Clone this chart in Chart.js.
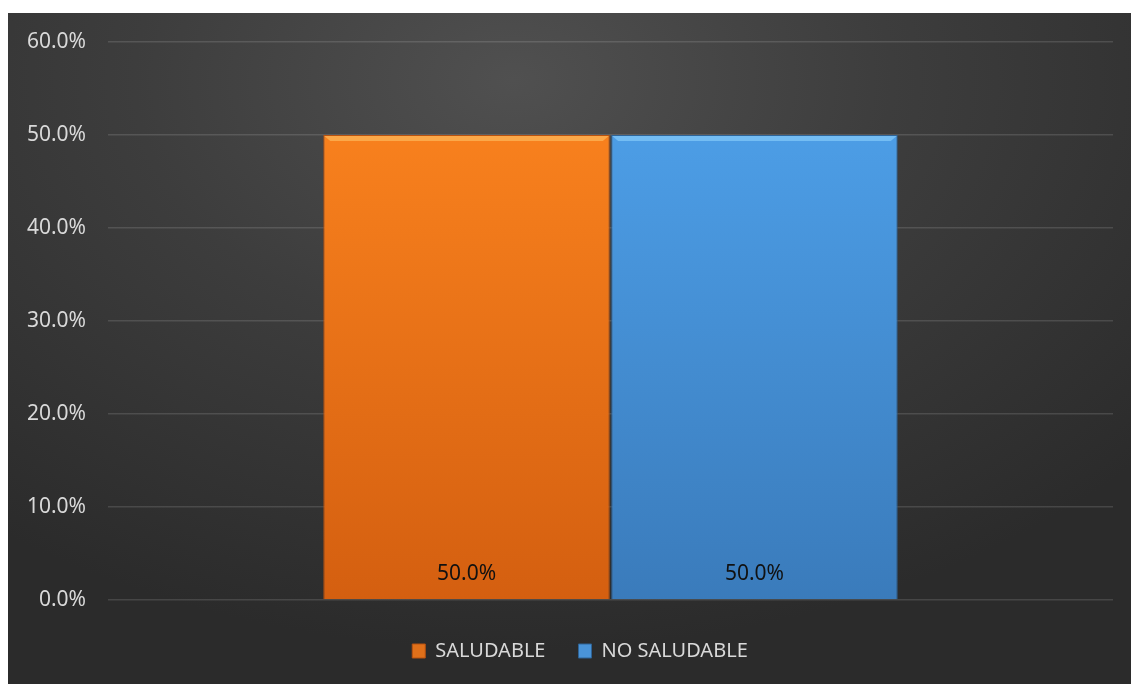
<!DOCTYPE html>
<html>
<head>
<meta charset="utf-8">
<script src="https://cdn.jsdelivr.net/npm/chart.js@4"></script>
<style>
  body { margin: 0; background: #fff; }
  #wrap {
    position: absolute; left: 8px; top: 13px; width: 1123px; height: 671px;
    background: radial-gradient(ellipse 75% 85% at 45% 10%, #505050 0%, #3d3d3d 45%, #2b2b2b 100%);
  }
</style>
</head>
<body>
<div id="wrap"><canvas id="barchart"></canvas></div>
<script>
const categories = [''];
const saludable = [50.0];
const noSaludable = [50.0];
const yTicks = [0, 10, 20, 30, 40, 50, 60];

function vgrad(ctx, top, bottom) {
  const area = ctx.chart.chartArea;
  if (!area) return top;
  const g = ctx.chart.ctx.createLinearGradient(0, area.top, 0, area.bottom);
  g.addColorStop(0, top);
  g.addColorStop(1, bottom);
  return g;
}

// value labels near the base of each bar, plus a light bevel on the top edge
const baseLabels = {
  id: 'baseLabels',
  afterDatasetsDraw(chart) {
    const c = chart.ctx;
    c.save();
    chart.data.datasets.forEach((ds, i) => {
      chart.getDatasetMeta(i).data.forEach(bar => {
        const l = bar.x - bar.width / 2, r = bar.x + bar.width / 2;
        c.fillStyle = ds.bevel;
        c.beginPath();
        c.moveTo(l + 1, bar.y + 1);
        c.lineTo(r - 1, bar.y + 1);
        c.lineTo(r - 7, bar.y + 6);
        c.lineTo(l + 7, bar.y + 6);
        c.closePath();
        c.fill();
      });
    });
    c.font = "21px 'Noto Sans'";
    c.fillStyle = '#111';
    c.textAlign = 'center';
    c.textBaseline = 'middle';
    chart.data.datasets.forEach((ds, i) => {
      chart.getDatasetMeta(i).data.forEach((bar, j) => {
        c.fillText(ds.data[j].toFixed(1) + '%', bar.x, bar.base - 25);
      });
    });
    c.restore();
  }
};

// nudge the legend a little to the right of the canvas centre
const legendShift = {
  id: 'legendShift',
  afterLayout(chart) {
    if (chart.legend) chart.legend.left += 39;
  }
};

new Chart(document.getElementById('barchart'), {
  type: 'bar',
  data: {
    labels: categories,
    datasets: [{
      label: 'SALUDABLE',
      data: saludable,
      backgroundColor: ctx => vgrad(ctx, '#ff8720', '#d45f10'),
      borderColor: '#b85210',
      borderWidth: 1,
      bevel: 'rgba(255,200,110,0.55)',
      legendColor: '#e0701a'
    }, {
      label: 'NO SALUDABLE',
      data: noSaludable,
      backgroundColor: ctx => vgrad(ctx, '#50a4ee', '#3a7bbb'),
      borderColor: '#2f6497',
      borderWidth: 1,
      bevel: 'rgba(150,215,255,0.55)',
      legendColor: '#4a94d8'
    }]
  },
  options: {
    responsive: true,
    maintainAspectRatio: false,
    animation: false,
    layout: { padding: { top: 29, right: 18, bottom: 13, left: 0 } },
    datasets: {
      bar: { categoryPercentage: 0.573, barPercentage: 0.995 }
    },
    scales: {
      x: {
        grid: { display: false },
        border: { display: false },
        ticks: { display: false }
      },
      y: {
        min: 0,
        max: 60,
        afterFit: s => { s.width = 100; s.paddingTop = 0; s.paddingBottom = 0; },
        afterBuildTicks: s => { s.ticks = yTicks.map(v => ({ value: v })); },
        grid: { color: 'rgba(255,255,255,0.13)', lineWidth: 1.5, drawTicks: false },
        border: { display: false },
        ticks: {
          padding: 22,
          color: '#d9d9d9',
          font: { family: "'Noto Sans'", size: 21, lineHeight: 1 },
          callback: v => v.toFixed(1) + '%'
        }
      }
    },
    plugins: {
      tooltip: { enabled: false },
      legend: {
        position: 'bottom',
        labels: {
          color: '#d9d9d9',
          font: { family: "'Noto Sans'", size: 20 },
          boxWidth: 13,
          boxHeight: 14,
          padding: 33,
          generateLabels: chart => chart.data.datasets.map((ds, i) => ({
            text: ds.label,
            fillStyle: ds.legendColor,
            strokeStyle: ds.borderColor,
            lineWidth: 1,
            fontColor: '#d9d9d9',
            datasetIndex: i
          }))
        }
      }
    }
  },
  plugins: [baseLabels, legendShift]
});
</script>
</body>
</html>
